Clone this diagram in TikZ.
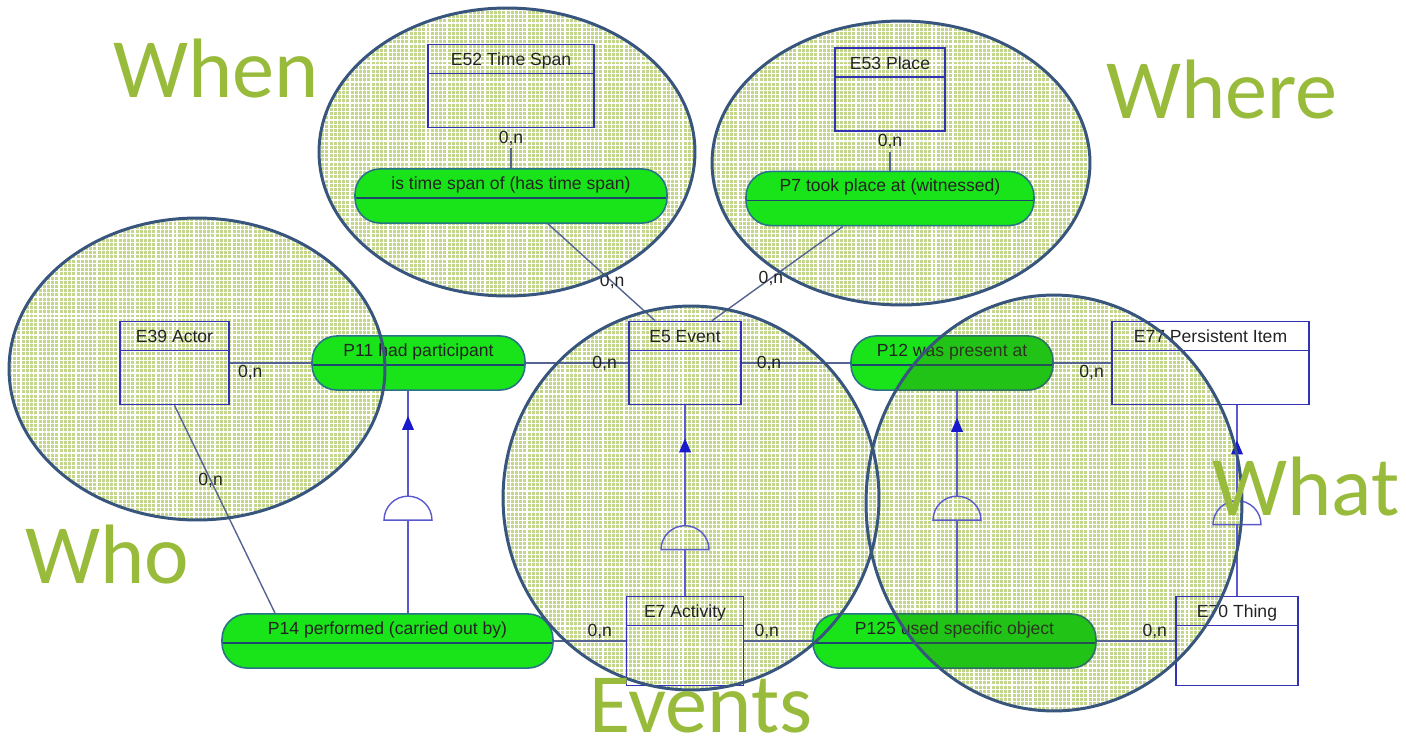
\documentclass[tikz,border=0pt]{standalone}
\usepackage{fontspec}
\setmainfont{Liberation Sans}
\newfontfamily\headfont{Carlito}
\usetikzlibrary{calc,patterns.meta}

\definecolor{ringc}{RGB}{55,85,125}
\definecolor{gridc}{RGB}{196,213,140}
\definecolor{boxc}{RGB}{50,50,180}
\definecolor{pillg}{RGB}{25,228,25}
\definecolor{pillc}{RGB}{40,115,135}
\definecolor{pillmid}{RGB}{30,70,110}
\definecolor{linkc}{RGB}{85,100,145}
\definecolor{isac}{RGB}{90,90,205}
\definecolor{tipc}{RGB}{25,25,205}
\definecolor{wordc}{RGB}{153,187,59}
\definecolor{textc}{RGB}{35,35,35}
\definecolor{shadec}{RGB}{60,110,20}

\tikzset{
  ringfill/.style={fill=gridc, postaction={pattern={Hatch[angle=0,distance=2.4pt,line width=0.7pt]}, pattern color=white}},
  ring/.style={draw=ringc, line width=1.7pt},
  entity/.style={draw=boxc, line width=1pt, minimum width=#1, inner ysep=4.5pt,
    text height=7.5pt, text depth=30.7pt, text=textc, font=\fontsize{10}{12}\selectfont,
    path picture={\draw[boxc, line width=1pt] ([yshift=-0.58cm]path picture bounding box.north west) -- ([yshift=-0.58cm]path picture bounding box.north east);}},
  tall/.style={text depth=34.1pt},
  pill/.style={draw=pillc, fill=pillg, line width=0.9pt, rounded corners=0.5cm, minimum width=#1,
    inner ysep=4pt, text height=7.5pt, text depth=15.3pt, text=textc, font=\fontsize{10}{12}\selectfont,
    path picture={\draw[pillmid, line width=1pt] ([yshift=-0.58cm]path picture bounding box.north west) -- ([yshift=-0.58cm]path picture bounding box.north east);}},
  link/.style={draw=linkc, line width=0.8pt},
  card/.style={text=textc, inner sep=1pt, font=\fontsize{10}{12}\selectfont},
  isa/.style={draw=isac, line width=0.8pt},
  word/.style={text=wordc, inner sep=0pt, anchor=base, font=\headfont\fontsize{48}{50}\selectfont}
}

\begin{document}
\begin{tikzpicture}[x=0.02cm, y=-0.02cm]
    \useasboundingbox (0,0) rectangle (1406,744);
    % centre x / centre y / x radius / y radius
    \def\rings{507/152/3.76/2.88, 901/163/3.78/2.84, 197/369/3.76/3.02, 691/498/3.76/3.84, 1054/503/3.76/4.16}

    % --- ellipse fills (behind the model) ---
    \foreach \cx/\cy/\rx/\ry in \rings
        \path[ringfill] (\cx,\cy) ellipse [x radius=\rx cm, y radius=\ry cm];

    % --- classes ---
    \node[entity=3.32cm] (e52) at (511,86) {E52 Time Span};
    \node[entity=2.2cm] (e53) at (890,89.5) {E53 Place};
    \node[entity=2.18cm] (e39) at (174.5,363) {E39 Actor};
    \node[entity=2.24cm] (e5) at (685,363) {E5 Event};
    \node[entity=3.94cm] (e77) at (1210.5,363) {E77 Persistent Item};
    \node[entity=2.34cm, tall] (e7) at (685,641) {E7 Activity};
    \node[entity=2.44cm, tall] (e70) at (1237,641) {E70 Thing};

    % --- properties ---
    \node[pill=6.24cm] (p4) at (511,196) {is time span of (has time span)};
    \node[pill=5.76cm] (p7) at (890,198.5) {P7 took place at (witnessed)};
    \node[pill=4.26cm] (p11) at (418.5,363) {P11 had participant};
    \node[pill=4.04cm] (p12) at (952,363) {P12 was present at};
    \node[pill=6.62cm] (p14) at (387.5,641) {P14 performed (carried out by)};
    \node[pill=5.66cm] (p125) at (954.5,641) {P125 used specific object};

    % --- links with cardinalities ---
    \draw[link, shorten <=0.4cm] (e52) -- (p4) node[card, pos=0, below] {0,n};
    \draw[link, shorten <=0.4cm] (e53) -- (p7) node[card, pos=0, below] {0,n};
    \draw[link] ([xshift=0.74cm]p4.south) -- ([xshift=-0.6cm]e5.north) node[card, pos=0.6] {0,n};
    \draw[link] ([xshift=-0.94cm]p7.south) -- ([xshift=0.54cm]e5.north) node[card, pos=0.55] {0,n};
    \draw[link] (e39) -- (p11) node[card, pos=0.25, below] {0,n};
    \draw[link] (p11) -- (e5) node[card, pos=0.77] {0,n};
    \draw[link] (e5) -- (p12) node[card, pos=0.25] {0,n};
    \draw[link] (p12) -- (e77) node[card, pos=0.66, below] {0,n};
    \draw[link] (e39.south) -- ([xshift=-2.25cm]p14.north) node[card, pos=0.36] {0,n};
    \draw[link] (p14) -- (e7) node[card, pos=0.64, above] {0,n};
    \draw[link] (e7) -- (p125) node[card, pos=0.33, above] {0,n};
    \draw[link] (p125) -- (e70) node[card, pos=0.74, above] {0,n};

    % --- is-a links: sub / super / x / semicircle height / tip gap ---
    \foreach \sub/\super/\xx/\dy/\tg in {p14/p11/408/93/25, e7/e5/685/46/33, p125/p12/957/93/27, e70/e77/1237/71/35}{
        \coordinate (xc) at (\xx,0);
        \draw[isa] (\sub.north -| xc) -- ++(0,-\dy) coordinate (base);
        \draw[isa] (base) ++(-24,0) arc[start angle=180, end angle=0, radius=0.48cm] -- cycle;
        \draw[isa] ($(base)+(0,-24)$) -- (\super.south -| xc) coordinate (top);
        \fill[tipc] ($(top)+(0,\tg)$) -- ++(-6,14) -- ++(12,0) -- cycle;
    }

    % --- the What ellipse lies over its properties ---
    \begin{scope}
        \clip (1054,503) ellipse [x radius=3.76cm, y radius=4.16cm];
        \fill[shadec, fill opacity=0.28, rounded corners=0.5cm]
            (p12.north west) rectangle (p12.south east)
            (p125.north west) rectangle (p125.south east);
    \end{scope}

    % --- ellipse outlines ---
    \foreach \cx/\cy/\rx/\ry in \rings
        \draw[ring] (\cx,\cy) ellipse [x radius=\rx cm, y radius=\ry cm];

    % --- question words ---
    \node[word] (when) at (216,97) {When};
    \node[word] (where) at (1222,118) {Where};
    \node[word] (who) at (107,583) {Who};
    \node[word] (what) at (1306,515) {What};
    \node[word] (events) at (701,732) {Events};
\end{tikzpicture}
\end{document}
